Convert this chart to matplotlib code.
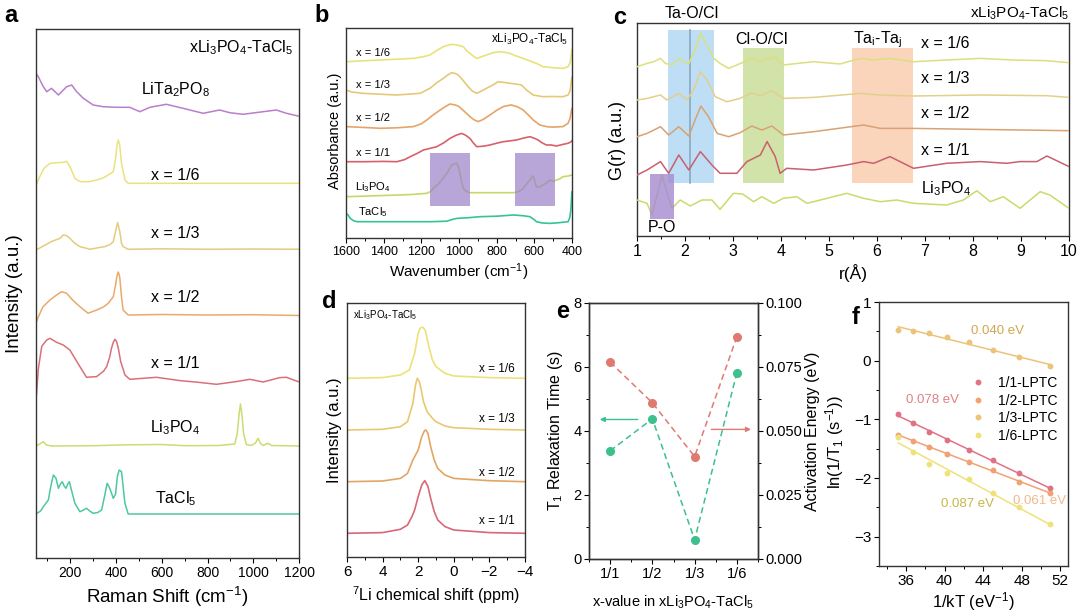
import numpy as np
import matplotlib
matplotlib.use("Agg")
import matplotlib.pyplot as plt
from matplotlib.ticker import MultipleLocator

plt.rcParams['font.family'] = ['Liberation Sans', 'DejaVu Sans']
plt.rcParams['mathtext.default'] = 'regular'
plt.rcParams['axes.linewidth'] = 1.0
plt.rcParams['axes.edgecolor'] = '#333333'

W, H = 1080, 614

# ---------------- a: Raman spectra (intensity relative to each baseline) ----------------
RAMAN_LITA2PO8_X = [50, 60, 82, 97, 118, 148, 184, 206, 228, 257, 300, 344, 402, 460, 504, 548,
                    620, 693, 781, 853, 897, 955, 1043, 1101, 1145, 1196]
RAMAN_LITA2PO8_Y = [36.7, 33.3, 23.3, 18.3, 21.7, 15, 23.3, 25, 18.3, 11.7, 5, 3.3, 2.7, 2.7, -1.7, 2.7,
                    5.7, 1.7, -3.3, 0, -2.7, -4.3, -1.7, 0, -3.3, -6]
RAMAN_X16_X = [50, 65, 85, 111, 140, 170, 184, 200, 220, 242, 280, 315, 345, 366, 388, 398, 404, 410,
               416, 424, 439, 453, 600, 800, 1000, 1200]
RAMAN_X16_Y = [-1.7, 6, 15, 20, 20.5, 21, 22, 16, 5, 1.7, 1.5, 3.3, 5.5, 8.3, 11.7, 25, 38, 43.3,
               38, 20, 3.3, 0, 0, 0, 0, 0]
RAMAN_X13_X = [50, 80, 120, 155, 169, 185, 198, 220, 242, 286, 320, 351, 375, 388, 398, 407, 416, 424,
               431, 453, 600, 800, 1000, 1200]
RAMAN_X13_Y = [-0.7, 3, 8, 11, 14.3, 13.5, 11, 6, 2.7, 0, 1.5, 2.7, 5, 7.7, 18, 26.7, 18, 6,
               2.7, 0, 0.5, 0, 0.3, 0]
RAMAN_X12_X = [50, 60, 80, 111, 140, 162, 184, 210, 242, 278, 315, 345, 366, 388, 398, 404, 410, 416,
               424, 431, 453, 600, 800, 1000, 1200]
RAMAN_X12_Y = [-8, -2, 8, 15, 20, 23.3, 21.7, 15, 8.3, 1.7, 5, 8, 11.7, 18.3, 30, 39, 43, 38,
               18, 5, 0, 0.5, 0, 0.3, -0.5]
RAMAN_X11_X = [52, 60, 75, 97, 111, 140, 169, 198, 242, 271, 315, 345, 359, 372, 380, 388, 395, 402,
               410, 420, 439, 460, 577, 679, 760, 839, 926, 985, 1043, 1116, 1145, 1196]
RAMAN_X11_Y = [-15.7, 10, 33, 39.3, 41, 37, 34.3, 29.3, 12.7, 2, 2.7, 8, 12.7, 22, 31, 37, 40, 38,
               31, 18, 4.3, 0, 2, -1.3, -3, -5, -2.3, 0, -2.7, 1.7, 2, -2.3]
RAMAN_LI3PO4_X = [50, 70, 82, 95, 120, 300, 450, 600, 700, 850, 897, 919, 930, 938, 944, 950, 958, 970,
                  990, 1010, 1021, 1032, 1043, 1055, 1065, 1080, 1200]
RAMAN_LI3PO4_Y = [0, 2.5, 4.3, 1, 0, 0.3, 1.2, 1.5, 0.3, 0.5, 1.5, 2, 12, 32, 42, 32, 12, 1.5,
                  0.5, 3, 7.7, 2.5, 0.5, 2, 2.7, 0.5, 0]
RAMAN_TACL5_X = [50, 70, 82, 104, 115, 126, 137, 148, 157, 165, 173, 181, 189, 196, 205, 220, 242, 258,
                 271, 285, 300, 320, 337, 350, 361, 372, 388, 398, 406, 414, 424, 432, 439, 453,
                 600, 800, 1000, 1200]
RAMAN_TACL5_Y = [0, 3, 7.3, 14, 28, 39, 36, 25.7, 30, 32.3, 28, 25.7, 30, 32.3, 24, 10.7, 2.3, 4,
                 5.7, 3, 0.7, 1.5, 4, 18, 30.7, 26, 15.7, 20, 38, 44, 42.3, 25, 10.7, 0,
                 0, 0, 0, 0]

# ---------------- b: FTIR ----------------
IR_X16_X = [1600, 1500, 1418, 1330, 1242, 1190, 1154, 1120, 1083, 1050, 1030, 1005, 977, 960, 942, 920,
            906, 880, 854, 820, 783, 760, 730, 700, 659, 620, 589, 554, 500, 448, 421, 410, 404, 400]
IR_X16_Y = [0, 1, 1.7, 2.5, 3.3, 5, 6.7, 11, 15, 17, 17.3, 16.5, 15, 11, 8.3, 5,
            3.3, 5, 6.7, 9, 10, 9.5, 8.3, 6, 3.3, 0.5, -1.7, -5, -6, -6.7, -5, -1, 6.7, 12]
IR_X13_X = [1600, 1570, 1512, 1420, 1330, 1206, 1154, 1120, 1083, 1060, 1039, 1020, 1004, 980, 959, 930,
            906, 880, 854, 820, 792, 760, 730, 700, 668, 642, 606, 554, 500, 448, 421, 410, 404, 400]
IR_X13_Y = [5, 3, 1.7, 0.8, 0, 1.7, 6.7, 12, 16.7, 20, 22.3, 21.5, 20, 15, 10, 4,
            1.7, 4, 6.7, 10, 13.3, 12.5, 11.7, 11, 10, 5, 0, -1.7, -1.5, -1.7, 0, 4, 13.3, 18]
IR_X12_X = [1600, 1500, 1418, 1330, 1242, 1200, 1171, 1140, 1100, 1070, 1048, 1025, 1004, 975, 942, 920,
            898, 870, 836, 800, 765, 740, 721, 690, 659, 630, 606, 571, 530, 500, 448, 421, 410, 404, 400]
IR_X12_Y = [1.7, 0.8, 0, 0.5, 1.7, 4.5, 8.3, 13, 18.3, 22, 24.3, 23.5, 22.3, 17.5, 11.7, 8.5,
            6.7, 9, 13.3, 18, 21.7, 22.8, 23.3, 21.5, 18.3, 13, 8.3, 3.3, 1.5, 1.2, 1.7, 5, 10, 16.7, 20]
IR_X11_X = [1600, 1500, 1400, 1330, 1290, 1259, 1220, 1189, 1150, 1118, 1080, 1048, 1015, 986, 965, 942,
            925, 906, 870, 836, 800, 765, 730, 695, 660, 624, 600, 580, 560, 536, 510, 483, 448, 420, 404, 400]
IR_X11_Y = [0, 0, 0.3, 0, 2, 5, 8.5, 11.7, 13.5, 15, 19, 23.3, 26.5, 28.3, 26.5, 23.3,
            19, 15, 15.5, 16.7, 18.5, 20, 20.8, 21.7, 23.5, 25, 23.5, 21.7, 19, 16.7, 16.7, 15.7, 17.3, 18.5, 20, 21]
IR_LI3PO4_X = [1600, 1400, 1250, 1171, 1150, 1136, 1110, 1083, 1060, 1039, 1025, 1012, 1003, 995, 985, 977,
               960, 942, 850, 712, 690, 668, 645, 624, 612, 606, 598, 589, 570, 554, 536, 518, 500, 483,
               465, 448, 420, 400]
IR_LI3PO4_Y = [-1.7, -0.5, 0.5, 1.7, 3.5, 6.7, 11, 16.7, 23, 30, 31, 31.7, 28, 21.7, 12, 6.7,
               3.5, 2.3, 2.3, 2.3, 3, 5, 10, 15, 18, 19, 14, 8.3, 8, 10, 12, 15, 13.5, 15,
               16, 18.3, 19, 20]
IR_TACL5_X = [1600, 1590, 1577, 1560, 1542, 1300, 1150, 1065, 1040, 1012, 950, 889, 800, 712, 660, 624,
              600, 589, 560, 518, 470, 421, 412, 406, 402, 400]
IR_TACL5_Y = [8.3, 7, 3.3, 1, 0, 0, 0, 0.5, 2, 3.3, 4, 5, 5.5, 6.7, 6, 5,
              2, 0, -1.2, -1.7, -1, 0, 4, 12, 25, 30]
IR_BANDS = [(1154, 942), (704, 492)]

# ---------------- c: PDF G(r) ----------------
PDF_X16_R = [1.0, 1.21, 1.35, 1.49, 1.59, 1.73, 1.87, 1.97, 2.08, 2.21, 2.32, 2.42, 2.60, 2.73, 2.91, 3.08,
             3.39, 3.57, 3.85, 4.05, 4.68, 5.23, 5.65, 5.93, 6.27, 6.76, 7.45, 8.15, 8.84, 9.54, 10.0]
PDF_X16_G = [-5, -1.7, 0, 3.3, -1.7, -3.3, 3.3, 0, -1.7, 11.7, 28.3, 20, 3.3, -1.7, -6.7, -3.3,
             3.3, 0, 5, -3.3, 0, -2.3, 3.3, 1.7, 3.3, 0, 1.7, 3.3, 1.7, 1, -1]
PDF_X13_R = [1.0, 1.21, 1.49, 1.62, 1.87, 2.04, 2.18, 2.32, 2.46, 2.63, 2.87, 3.15, 3.39, 3.57, 3.81, 4.05,
             4.68, 5.65, 6.07, 6.76, 8.15, 9.54, 10.0]
PDF_X13_G = [-3.3, -1.7, 1.7, -3.3, 3.3, -3.3, 6.7, 25, 16.7, 0, -5, -1.7, 4, 0.7, 6, -1.7,
             -0.7, 3.3, 1.7, 0.7, 1.7, 1, -0.7]
PDF_X12_R = [1.0, 1.21, 1.49, 1.66, 1.87, 2.08, 2.21, 2.33, 2.49, 2.67, 2.91, 3.15, 3.39, 3.60, 3.81, 4.05,
             4.68, 5.72, 6.07, 6.76, 8.15, 10.0]
PDF_X12_G = [-5, -1.7, 5, -3.3, 5, -4.3, 11.7, 25.7, 15, -1.7, -5, -1, 5.7, 1.7, 5.7, -3.3,
             0, 6.7, 3.3, 3.3, 2.3, 1]
PDF_X11_R = [1.0, 1.21, 1.49, 1.66, 1.87, 2.08, 2.32, 2.56, 2.73, 3.08, 3.29, 3.43, 3.57, 3.71, 3.88, 3.98,
             4.12, 4.68, 5.37, 5.72, 5.93, 6.27, 6.76, 7.45, 8.15, 8.70, 8.98, 9.33, 9.54, 10.0]
PDF_X11_G = [-6.7, -1.7, 6.7, -5, 13.3, -1.7, 16.7, 3.3, -5, -5, 6.7, 10, 13.3, 26.7, 11.7, -5,
             0, -1.7, 3.3, 6.7, 5, 11.7, 0, 5, 6.7, 5, 6.7, 6.7, 12.3, 1.7]
PDF_LI3PO4_R = [1.0, 1.21, 1.31, 1.42, 1.52, 1.62, 1.73, 1.90, 2.11, 2.35, 2.56, 2.73, 3.01, 3.2, 3.43, 3.60,
                3.85, 4.05, 4.33, 4.54, 4.82, 5.37, 5.72, 6.07, 6.41, 6.76, 7.45, 7.80, 8.08, 8.36, 8.63,
                8.98, 9.40, 9.60, 10.0]
PDF_LI3PO4_G = [0, -3.3, -15, 5, 25, 8, -8.3, 0, -6, 0, 0, -9.3, 6.7, 6, -1.7, 3.3,
                -3.3, 1.7, 3.3, -3.3, 0, 6.7, 1.7, -1.7, 0, -3.3, -5, 0, 9.3, -1.7, 3.3,
                -8.3, 8.3, 5, -8.3]

# ---------------- d: 7Li NMR ----------------
NMR_X16_S = [6, 4, 3, 2.5, 2.2, 2.0, 1.9, 1.8, 1.7, 1.6, 1.4, 1.2, 1.0, 0.5, 0, -2, -4]
NMR_X16_I = [0, 0.7, 3.3, 8.3, 25, 45, 50, 51, 50.5, 47.7, 31.7, 18.3, 11.7, 5, 2.3, 0.7, 0]
NMR_X13_S = [6, 4, 3, 2.6, 2.3, 2.15, 2.05, 1.95, 1.85, 1.7, 1.5, 1.2, 1.0, 0.5, 0, -2, -4]
NMR_X13_I = [0, 0.7, 3.3, 8.3, 26.7, 45, 51.7, 49, 42, 28.3, 18.3, 11.7, 8.3, 4, 2.3, 0.7, 0]
NMR_X12_S = [6, 4, 3, 2.6, 2.3, 2.15, 2.0, 1.8, 1.65, 1.57, 1.45, 1.3, 1.1, 0.9, 0.5, 0, -2, -4]
NMR_X12_I = [0, 0.7, 3.3, 8.3, 21.7, 26.7, 31.7, 45, 51, 51.7, 48.3, 35, 21.7, 13.3, 6.7, 3.3, 1, 0]
NMR_X11_S = [6, 4, 3, 2.6, 2.35, 2.2, 2.0, 1.8, 1.63, 1.45, 1.3, 1.1, 0.9, 0.5, 0, -2, -4]
NMR_X11_I = [0, 0.7, 4, 8.3, 16.7, 23.3, 36.7, 48.3, 52.7, 46.7, 35, 21.7, 13.3, 6.7, 3.3, 0.7, 0]

# ---------------- e: T1 and activation energy ----------------
X_VALUES = ['1/1', '1/2', '1/3', '1/6']
T1_TIME = [3.38, 4.38, 0.6, 5.82]
ACT_ENERGY = [0.0769, 0.061, 0.040, 0.0868]

# ---------------- f: Arrhenius ----------------
INV_KT = [35.2, 36.7, 38.4, 40.3, 42.5, 45.0, 47.7, 50.9]
LN_RATE_11 = [-0.91, -1.06, -1.22, -1.36, -1.52, -1.69, -1.92, -2.17]
LN_RATE_12 = [-1.26, -1.37, -1.47, -1.59, -1.73, -1.86, -2.07, -2.25]
LN_RATE_13 = [0.53, 0.51, 0.47, 0.40, 0.31, 0.18, 0.06, -0.09]
LN_RATE_16 = [-1.30, -1.56, -1.76, -1.92, -2.02, -2.25, -2.49, -2.79]
F_LABELS = ['1/1-LPTC', '1/2-LPTC', '1/3-LPTC', '1/6-LPTC']
F_EA_TEXT = ['0.078 eV', '0.061 eV', '0.040 eV', '0.087 eV']


def panel(left, top, right, bottom):
    return fig.add_axes([left / W, 1 - bottom / H, (right - left) / W, (bottom - top) / H])


def style(ax, size):
    ax.tick_params(direction='out', length=3.5, width=0.8, labelsize=size, pad=2)
    ax.tick_params(which='minor', direction='out', length=2, width=0.7)


def xlab(ax, text, fy, size):
    ax.set_xlabel(text, fontsize=size)
    ax.xaxis.set_label_coords(0.5, fy)
    ax.xaxis.label.set_va('center')


def ylab(ax, text, fx, size, fy=0.5):
    ax.set_ylabel(text, fontsize=size)
    ax.yaxis.set_label_coords(fx, fy)
    ax.yaxis.label.set_va('center')
    ax.yaxis.label.set_ha('center')


fig = plt.figure(figsize=(W / 100, H / 100), dpi=100)

COMPOUND = 'xLi$_3$PO$_4$-TaCl$_5$'

# ----- panel a -----
ax = panel(36, 29, 299, 558)
raman = [
    (RAMAN_LITA2PO8_X, RAMAN_LITA2PO8_Y, 448, '#b77fcc', 'LiTa$_2$PO$_8$', 0.885),
    (RAMAN_X16_X, RAMAN_X16_Y, 374.7, '#e9e37e', 'x = 1/6', 0.724),
    (RAMAN_X13_X, RAMAN_X13_Y, 308.7, '#e5cb7c', 'x = 1/3', 0.614),
    (RAMAN_X12_X, RAMAN_X12_Y, 243, '#e8aa6c', 'x = 1/2', 0.493),
    (RAMAN_X11_X, RAMAN_X11_Y, 178.7, '#d8707a', 'x = 1/1', 0.367),
    (RAMAN_LI3PO4_X, RAMAN_LI3PO4_Y, 112, '#cddb72', 'Li$_3$PO$_4$', 0.246),
    (RAMAN_TACL5_X, RAMAN_TACL5_Y, 44, '#4cc9a0', 'TaCl$_5$', 0.112),
]
for xs, ys, off, col, lab, ty in raman:
    ax.plot(xs, np.array(ys) + off, color=col, lw=1.1)
    ax.text(0.53, ty, lab, transform=ax.transAxes, ha='center', va='center', fontsize=11.5)
ax.text(0.977, 0.964, COMPOUND, transform=ax.transAxes, ha='right', va='center', fontsize=11.5)
ax.set_xlim(50, 1200)
ax.set_ylim(0, 529)
ax.set_yticks([])
ax.xaxis.set_major_locator(MultipleLocator(200))
ax.xaxis.set_minor_locator(MultipleLocator(100))
style(ax, 10)
xlab(ax, 'Raman Shift (cm$^{-1}$)', -0.074, 13.5)
ylab(ax, 'Intensity (a.u.)', -0.08, 13.5)

# ----- panel b -----
ax = panel(346, 28, 572, 238)
ir = [
    (IR_X16_X, IR_X16_Y, 176.3, '#e8e27a', 'x = 1/6', 52.7),
    (IR_X13_X, IR_X13_Y, 143, '#e5c878', 'x = 1/3', 85),
    (IR_X12_X, IR_X12_Y, 109.7, '#e6a468', 'x = 1/2', 118),
    (IR_X11_X, IR_X11_Y, 76.3, '#d8606a', 'x = 1/1', 153),
    (IR_LI3PO4_X, IR_LI3PO4_Y, 43, '#c8d66a', 'Li$_3$PO$_4$', 187),
    (IR_TACL5_X, IR_TACL5_Y, 16.3, '#35c39a', 'TaCl$_5$', 212),
]
for xs, ys, off, col, lab, py in ir:
    ax.plot(xs, np.array(ys) + off, color=col, lw=1.2)
    ax.text((373 - 346) / 226, (238 - py) / 210, lab, transform=ax.transAxes,
            ha='center', va='center', fontsize=8)
for hi, lo in IR_BANDS:
    ax.fill_between([hi, lo], 32.3, 85.3, color='#9a80c8', alpha=0.7, lw=0, zorder=5)
ax.text((530 - 346) / 226, (238 - 39) / 210, COMPOUND, transform=ax.transAxes,
        ha='center', va='center', fontsize=8.5)
ax.set_xlim(1600, 400)
ax.set_ylim(0, 210)
ax.set_yticks([])
ax.xaxis.set_major_locator(MultipleLocator(200))
ax.xaxis.set_minor_locator(MultipleLocator(100))
style(ax, 9)
xlab(ax, 'Wavenumber (cm$^{-1}$)', -0.162, 11)
ylab(ax, 'Absorbance (a.u.)', -0.05, 10.5, 0.51)

# ----- panel c -----
ax = panel(637, 23, 1069, 236)
pdf = [
    (PDF_X16_R, PDF_X16_G, 174.3, '#dbe07c', 'x = 1/6', 43.3),
    (PDF_X13_R, PDF_X13_G, 139.3, '#e2d08a', 'x = 1/3', 78.3),
    (PDF_X12_R, PDF_X12_G, 104.3, '#d8a272', 'x = 1/2', 114),
    (PDF_X11_R, PDF_X11_G, 67.7, '#c8606e', 'x = 1/1', 150.7),
    (PDF_LI3PO4_R, PDF_LI3PO4_G, 36, '#c8dc6c', 'Li$_3$PO$_4$', 188.3),
]
ax.fill_between([1.645, 2.61], 52.7, 206, color='#a8d4f2', alpha=0.75, lw=0, zorder=1)
ax.fill_between([3.20, 4.06], 52.7, 187.7, color='#c4da8c', alpha=0.75, lw=0, zorder=1)
ax.fill_between([5.48, 6.76], 52.7, 187.7, color='#f9c6a4', alpha=0.75, lw=0, zorder=1)
ax.plot([2.11, 2.11], [52.7, 206], color='#8aa8c0', lw=1.2, zorder=2)
for xs, ys, off, col, lab, py in pdf:
    ax.plot(xs, np.array(ys) + off, color=col, lw=1.1, zorder=3)
    ax.text((921 - 637) / 432, (236 - py) / 213, lab, transform=ax.transAxes,
            ha='left', va='center', fontsize=11.5)
ax.fill_between([1.28, 1.78], 16.7, 62, color='#a48ad0', alpha=0.8, lw=0, zorder=4)
ax.text((692 - 637) / 432, (236 - 13) / 213, 'Ta-O/Cl', transform=ax.transAxes,
        ha='center', va='center', fontsize=11.5, clip_on=False)
ax.text((762 - 637) / 432, (236 - 40) / 213, 'Cl-O/Cl', transform=ax.transAxes,
        ha='center', va='center', fontsize=11.5)
ax.text((878 - 637) / 432, (236 - 40) / 213, 'Ta$_i$-Ta$_j$', transform=ax.transAxes,
        ha='center', va='center', fontsize=11.5)
ax.text((662 - 637) / 432, (236 - 228) / 213, 'P-O', transform=ax.transAxes,
        ha='center', va='center', fontsize=11.5)
ax.text(1.0, (236 - 13) / 213, COMPOUND, transform=ax.transAxes,
        ha='right', va='center', fontsize=11, clip_on=False)
ax.set_xlim(1, 10)
ax.set_ylim(0, 213)
ax.set_yticks([])
ax.xaxis.set_major_locator(MultipleLocator(1))
ax.xaxis.set_minor_locator(MultipleLocator(0.5))
style(ax, 11.5)
xlab(ax, 'r(Å)', -0.174, 12.5)
ylab(ax, 'G(r) (a.u.)', -0.045, 13, 0.45)

# ----- panel d -----
ax = panel(347, 303, 525, 557)
nmr = [
    (NMR_X16_S, NMR_X16_I, 178.7, '#ebe27a', 'x = 1/6', 369.3),
    (NMR_X13_S, NMR_X13_I, 127, '#e8c870', 'x = 1/3', 419.3),
    (NMR_X12_S, NMR_X12_I, 75.3, '#e2a565', 'x = 1/2', 472.7),
    (NMR_X11_S, NMR_X11_I, 23.7, '#d86878', 'x = 1/1', 520.7),
]
for xs, ys, off, col, lab, py in nmr:
    ax.plot(xs, np.array(ys) + off, color=col, lw=1.2)
    ax.text((515 - 347) / 178, (557 - py) / 254, lab, transform=ax.transAxes,
            ha='right', va='center', fontsize=8.5)
ax.text((352.7 - 347) / 178, (557 - 315) / 254, COMPOUND, transform=ax.transAxes,
        ha='left', va='center', fontsize=7)
ax.set_xlim(6, -4)
ax.set_ylim(0, 254)
ax.set_yticks([])
ax.xaxis.set_major_locator(MultipleLocator(2))
ax.xaxis.set_minor_locator(MultipleLocator(1))
style(ax, 11)
xlab(ax, '$^7$Li chemical shift (ppm)', -0.15, 11.5)
ylab(ax, 'Intensity (a.u.)', -0.07, 12, 0.5)

# ----- panel e -----
ax = panel(589, 303, 758, 559)
pos = np.arange(len(X_VALUES))
green, red = '#3cc08e', '#e07a70'
ax.plot(pos, T1_TIME, ls='--', color=green, lw=1.1, marker='o', ms=5.5, dashes=(4, 2.5))
ax.set_xlim(-0.5, 3.5)
ax.set_ylim(0, 8)
ax.set_xticks(pos)
ax.set_xticklabels(X_VALUES)
ax.xaxis.set_minor_locator(MultipleLocator(0.5))
ax.yaxis.set_major_locator(MultipleLocator(2))
ax.yaxis.set_minor_locator(MultipleLocator(1))
style(ax, 10.5)
ax2 = ax.twinx()
ax2.plot(pos, ACT_ENERGY, ls='--', color=red, lw=1.1, marker='o', ms=5.5, dashes=(4, 2.5))
ax2.set_ylim(0, 0.1)
ax2.yaxis.set_major_locator(MultipleLocator(0.025))
ax2.yaxis.set_minor_locator(MultipleLocator(0.0125))
ax2.yaxis.set_major_formatter(matplotlib.ticker.FormatStrFormatter('%.3f'))
style(ax2, 10.5)
ax.annotate('', xy=(-0.31, 4.36), xytext=(0.72, 4.36),
            arrowprops=dict(arrowstyle='-|>', color=green, lw=1.0, mutation_scale=7))
ax.annotate('', xy=(3.4, 4.05), xytext=(2.33, 4.05),
            arrowprops=dict(arrowstyle='-|>', color=red, lw=1.0, mutation_scale=7))
xlab(ax, 'x-value in ' + COMPOUND, -0.168, 10.5)
ylab(ax, 'T$_1$ Relaxation Time (s)', -0.2, 11.5)
ylab(ax2, 'Activation Energy (eV)', 1.32, 11.5)

# ----- panel f -----
ax = panel(879, 302, 1068, 566)
f_series = [LN_RATE_11, LN_RATE_12, LN_RATE_13, LN_RATE_16]
f_colors = ['#e07286', '#f0a272', '#ebc47a', '#eee27a']
f_text_colors = ['#e07f86', '#f2b98a', '#cfa84e', '#c9b548']
f_text_pos = [(38.8, -0.67), (49.9, -2.39), (45.5, 0.5), (42.4, -2.45)]
for ys, col, lab, tcol, ea, (tx, ty) in zip(f_series, f_colors, F_LABELS, f_text_colors,
                                            F_EA_TEXT, f_text_pos):
    k, b = np.polyfit(INV_KT, ys, 1)
    xx = np.array([INV_KT[0], INV_KT[-1]])
    ax.plot(xx, k * xx + b, color=col, lw=1.1)
    ax.plot(INV_KT, ys, 'o', ms=3.2, color=col, label=lab)
    ax.text(tx, ty, ea, color=tcol, fontsize=9.5, ha='center', va='center')
ax.set_xlim(33.2, 52.8)
ax.set_ylim(-3.5, 1)
ax.xaxis.set_major_locator(MultipleLocator(4))
ax.xaxis.set_minor_locator(MultipleLocator(2))
ax.yaxis.set_major_locator(MultipleLocator(1))
ax.yaxis.set_minor_locator(MultipleLocator(0.5))
style(ax, 11)
ax.legend(loc='upper left', bbox_to_anchor=(0.46, 0.74), frameon=False, fontsize=10,
          handlelength=1.0, handletextpad=0.9, labelspacing=0.25, borderaxespad=0,
          markerscale=1.0)
xlab(ax, '1/kT (eV$^{-1}$)', -0.135, 12)
ylab(ax, 'ln(1/T$_1$ (s$^{-1}$))', -0.233, 12, 0.47)

# panel letters
for letter, (px, py) in zip('abcdef', [(11, 16), (322, 16), (620, 18), (329, 301), (563, 312), (856, 317)]):
    fig.text(px / W, 1 - py / H, letter, fontsize=17, fontweight='bold', ha='center', va='center')

fig.savefig('out.png', dpi=100)
